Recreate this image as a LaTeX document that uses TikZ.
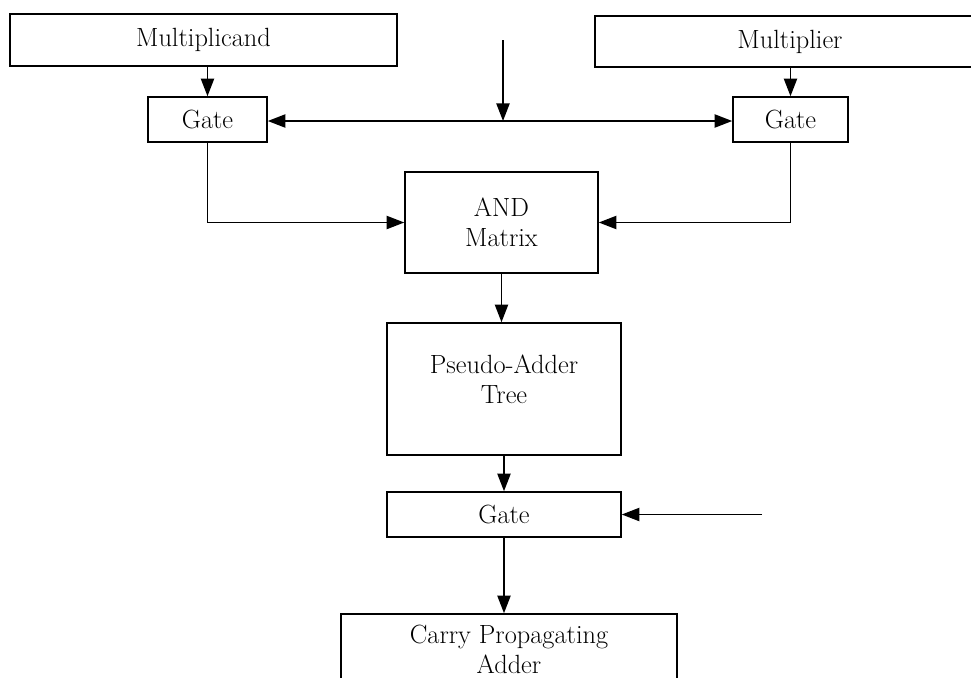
\documentclass[tikz,border=0pt]{standalone}
\usepackage{tikz}
\usetikzlibrary{arrows,arrows.meta,positioning}

\begin{document}
\begin{tikzpicture}[x=0.02cm, y=-0.02cm]
% STYLES
\tikzset{%
    unit/.style={%
rectangle,
draw,
line width=0.9pt,
inner sep=0pt,
align=center,
font=\fontsize{15}{17}\selectfont
                          },
    gatebox/.style={%
unit,
minimum height=0.9cm
                          },
    flow/.style={%
line width=0.9pt,
-{Triangle[length=10pt,width=7.5pt]}
                          }
             }
\useasboundingbox (0,0) rectangle (971,677);
\clip (0,0) rectangle (971,677);

% Draw units
\node [unit, minimum width=7.74cm, minimum height=1.04cm] (multiplicand) at (203.5,40) {Multiplicand};
\node [unit, minimum width=7.8cm, minimum height=1.02cm] (multiplier) at (790,41.5) {Multiplier};
\node [gatebox, minimum width=2.38cm] (gateA) at (207.5,119.5) {Gate};
\node [gatebox, minimum width=2.3cm] (gateB) at (790.5,119.5) {Gate};
\node [unit, minimum width=3.86cm, minimum height=2.02cm] (andmatrix) at (501.5,222.5) {AND\\Matrix};
\node [unit, minimum width=4.68cm, minimum height=2.64cm] (pseudotree) at (504,389) {Pseudo-Adder\\Tree\\[-6pt]\mbox{}};
\node [gatebox, minimum width=4.68cm] (gateC) at (504,514.5) {Gate};
\node [unit, minimum width=6.72cm, minimum height=1.4cm] (carryadder) at (509,649) {Carry Propagating\\Adder};

\coordinate (ctrltop) at (503,40);
\coordinate (ctrljoin) at (503,121);
\coordinate (gatein) at (762,514.5);

% Draw the links between units
\draw[flow] (gateA.north |- multiplicand.south) -- (gateA.north);
\draw[flow] (gateB.north |- multiplier.south) -- (gateB.north);
\draw[flow] (ctrltop) -- (ctrljoin);
\draw[flow] (ctrljoin) -- (ctrljoin -| gateA.east);
\draw[flow] (ctrljoin) -- (ctrljoin -| gateB.west);
\draw[flow] (gateA.south) |- (andmatrix.west);
\draw[flow] (gateB.south) |- (andmatrix.east);
\draw[flow] (andmatrix.south) -- (andmatrix.south |- pseudotree.north);
\draw[flow] (pseudotree.south) -- (gateC.north);
\draw[flow] (gatein) -- (gateC.east);
\draw[flow] (gateC.south) -- (gateC.south |- carryadder.north);
\end{tikzpicture}
\end{document}
